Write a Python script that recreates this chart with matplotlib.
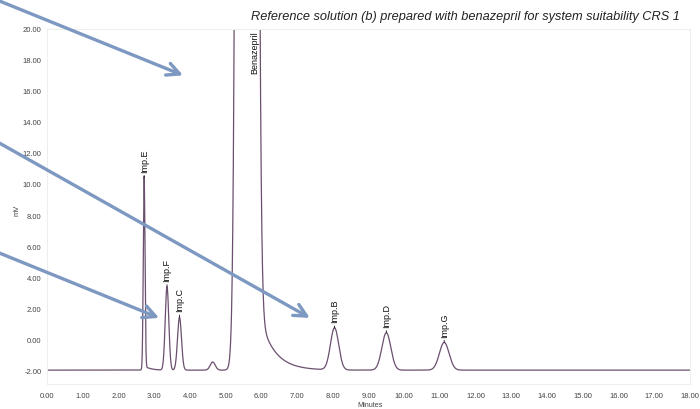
import numpy as np
import matplotlib
matplotlib.use("Agg")
import matplotlib.pyplot as plt

plt.rcParams['font.family'] = ['Liberation Sans', 'DejaVu Sans']

# Peak table
peak_names = ["Imp.E", "Imp.F", "Imp.C", "", "Benazepril", "Imp.B", "Imp.D", "Imp.G"]
peak_times = [2.72, 3.36, 3.71, 4.64, 5.60, 8.05, 9.50, 11.12]
peak_heights = [12.35, 5.35, 3.40, 0.52, 1260.0, 2.70, 2.40, 1.78]
peak_sigmas = [0.024, 0.050, 0.055, 0.070, 0.127, 0.115, 0.125, 0.135]
tail_amps = [0.25, 0.0, 0.0, 0.0, 4.0, 0.0, 0.0, 0.0]
tail_taus = [0.15, 0.1, 0.1, 0.1, 0.40, 0.1, 0.1, 0.1]
tail_starts = [2.76, 3.4, 3.7, 4.6, 5.90, 8.0, 9.5, 11.1]
baseline_level = -1.88

x_ticks = [float(v) for v in range(0, 19)]
y_ticks = [float(v) for v in range(-2, 21, 2)]

t = np.linspace(0, 18, 9001)
signal = np.full_like(t, baseline_level)
for tc, h, s, ta, tt, ts in zip(peak_times, peak_heights, peak_sigmas, tail_amps, tail_taus, tail_starts):
    signal += h * np.exp(-0.5 * ((t - tc) / s) ** 2)
    if ta > 0:
        z = np.clip((t - ts) / 0.03, -50, 50)
        signal += ta * np.exp(-np.clip(t - ts, -1, None) / tt) / (1 + np.exp(-z))

fig = plt.figure(figsize=(7.0, 4.09), dpi=100)
ax = fig.add_axes([0.0671, 0.060, 0.9186, 0.869])
ax.plot(t, signal, color='#6a4f6e', lw=0.9)
ax.set_xlim(0, 18)
ax.set_ylim(-2.8, 20)
ax.set_xticks(x_ticks)
ax.set_yticks(y_ticks)
ax.set_xticklabels([f"{v:.2f}" for v in x_ticks])
ax.set_yticklabels([f"{v:.2f}" for v in y_ticks])
ax.tick_params(length=0, labelsize=5.5, colors='#444444')
ax.tick_params(axis='x', pad=6.5)
ax.tick_params(axis='y', pad=4)
for sp in ax.spines.values():
    sp.set_color('#eeeeee')
    sp.set_linewidth(0.8)

fig.text(17 / 700, 1 - 210 / 409, "mV", rotation=90, ha='center', va='center', fontsize=5.5, color='#444444')
fig.text(370 / 700, 0.0, "Minutes", ha='center', va='bottom', fontsize=5.2, color='#444444')

# peak labels
for name, tc, h, s in zip(peak_names, peak_times, peak_heights, peak_sigmas):
    if not name:
        continue
    top = baseline_level + h
    if top > 20:
        ax.text(tc + 0.22, 19.85, name, rotation=90, ha='center', va='top', fontsize=6.5, color='#111111')
    else:
        ax.annotate(name, xy=(tc, top), xytext=(0, 3.5), textcoords='offset points',
                    rotation=90, ha='center', va='bottom', fontsize=6.5, color='#111111',
                    arrowprops=dict(arrowstyle='-', color='#111111', lw=0.6, shrinkA=0, shrinkB=0))

fig.text(0.971, 1 - 17 / 409, "Reference solution (b) prepared with benazepril for system suitability CRS 1",
         ha='right', va='center', style='italic', fontsize=9.2, color='#222222')

# pointer arrows
arrow_color = '#7d98c1'
arrow_tips = [(3.81, 17.03), (7.36, 1.47), (3.14, 1.47)]
arrow_starts = [(-0.01, 1.004), (-0.001, 1 - 143 / 409), (-0.001, 1 - 253 / 409)]
for tip, start in zip(arrow_tips, arrow_starts):
    ax.annotate('', xy=tip, xycoords='data', xytext=start, textcoords='figure fraction',
                annotation_clip=False,
                arrowprops=dict(arrowstyle='->, head_length=0.9, head_width=0.45',
                                color=arrow_color, lw=2.4, shrinkA=0, shrinkB=0))

fig.savefig("out.png", dpi=100)
